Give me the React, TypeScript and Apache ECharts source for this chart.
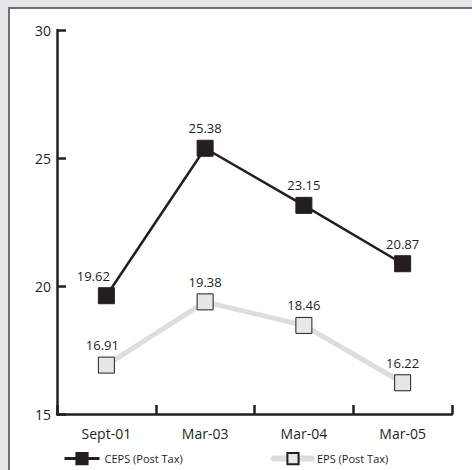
import React, { useEffect, useRef } from "react";
import * as echarts from "echarts";

const categories = ["Sept-01", "Mar-03", "Mar-04", "Mar-05"];
const cepsValues = [19.62, 25.38, 23.15, 20.87];
const epsValues = [16.91, 19.38, 18.46, 16.22];
const cepsName = "CEPS (Post Tax)";
const epsName = "EPS (Post Tax)";

const DARK = "#231f20";
const LIGHT_LINE = "#dcddde";
const LIGHT_FILL = "#e6e7e8";
const FONT = "'Open Sans', 'DejaVu Sans', sans-serif";
const NARROW = "'Liberation Sans Narrow', 'Open Sans', sans-serif";

export default function App() {
  const ref = useRef<HTMLDivElement>(null);
  useEffect(() => {
    if (!ref.current) return;
    const chart = echarts.init(ref.current, undefined, { renderer: "svg" });
    chart.setOption({
      animation: false,
      backgroundColor: "#e6e7e8",
      graphic: [
        {
          type: "rect",
          z: -10,
          silent: true,
          shape: { x: 9, y: 8, width: 480, height: 480 },
          style: { fill: "#ffffff", stroke: "#6d6e71", lineWidth: 2 },
        },
      ],
      grid: { left: 57, right: 20, top: 30, bottom: 56, containLabel: false },
      legend: [
        {
          data: [cepsName],
          left: 63,
          top: 452,
          padding: 0,
          itemWidth: 35,
          itemHeight: 14,
          lineStyle: { color: DARK, width: 3 },
          textStyle: { fontSize: 11, color: DARK, fontFamily: NARROW },
        },
        {
          data: [epsName],
          left: 271,
          top: 452,
          padding: 0,
          itemWidth: 38,
          itemHeight: 14,
          lineStyle: { color: LIGHT_LINE, width: 6, cap: "round" },
          textStyle: { fontSize: 11, color: DARK, fontFamily: NARROW },
        },
      ],
      xAxis: {
        type: "category",
        data: categories,
        boundaryGap: true,
        axisLine: { show: true, lineStyle: { color: DARK, width: 2.5 } },
        axisTick: { show: true, inside: true, length: 9, lineStyle: { color: DARK, width: 2.5 } },
        axisLabel: { fontSize: 14, color: DARK, fontFamily: FONT, margin: 12 },
        splitLine: { show: false },
      },
      yAxis: {
        type: "value",
        min: 15,
        max: 30,
        interval: 5,
        axisLine: { show: true, lineStyle: { color: DARK, width: 2.5 } },
        axisTick: { show: true, inside: true, length: 9, lineStyle: { color: DARK, width: 2.5 } },
        axisLabel: { fontSize: 14, color: DARK, fontFamily: FONT, margin: 6 },
        splitLine: { show: false },
      },
      series: [
        {
          name: epsName,
          type: "line",
          data: epsValues.map((v, i) => ({
            value: v,
            label: i === 0 ? { offset: [-4, 0] } : undefined,
          })),
          symbol: "rect",
          symbolSize: 16,
          lineStyle: { color: LIGHT_LINE, width: 5 },
          itemStyle: { color: LIGHT_FILL, borderColor: DARK, borderWidth: 1 },
          label: {
            show: true,
            position: "top",
            distance: 5,
            fontSize: 13,
            color: DARK,
            fontFamily: FONT,
            formatter: (p: any) => p.value.toFixed(2),
          },
          z: 2,
        },
        {
          name: cepsName,
          type: "line",
          data: cepsValues.map((v, i) => ({
            value: v,
            label: i === 0 ? { offset: [-13, 0] } : undefined,
          })),
          symbol: "rect",
          symbolSize: 16,
          lineStyle: { color: DARK, width: 2.5 },
          itemStyle: { color: DARK, borderColor: DARK, borderWidth: 1 },
          label: {
            show: true,
            position: "top",
            distance: 5,
            fontSize: 13,
            color: DARK,
            fontFamily: FONT,
            formatter: (p: any) => p.value.toFixed(2),
          },
          z: 3,
        },
      ],
    });
    return () => chart.dispose();
  }, []);
  return (
    <div
      ref={ref}
      style={{ position: "absolute", left: 0, top: 0, width: 472, height: 470 }}
    />
  );
}
